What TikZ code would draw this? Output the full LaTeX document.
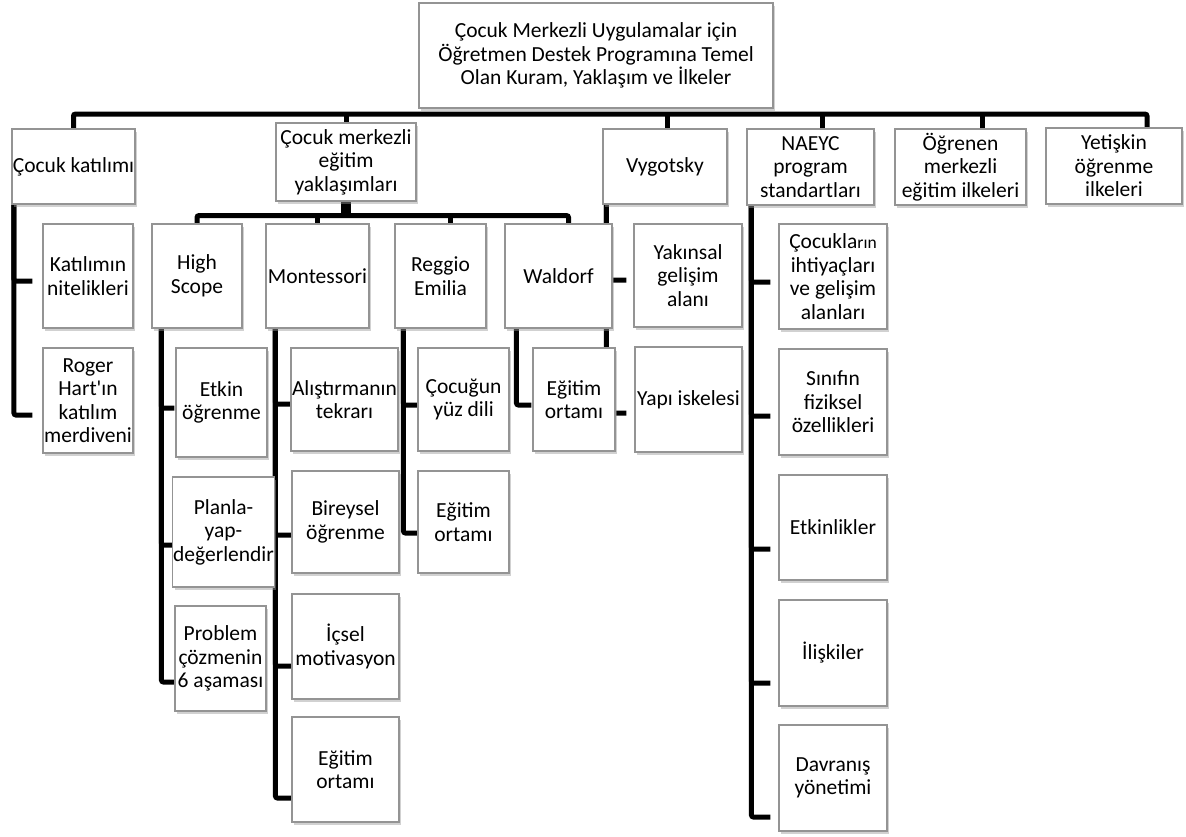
\documentclass[tikz,border=0pt]{standalone}
\usepackage{fontspec}
\setmainfont{Carlito}
\usetikzlibrary{calc,shadows}
\pgfdeclarelayer{back}
\pgfdeclarelayer{bg}
\pgfsetlayers{back,bg,main}
\tikzset{
  box/.style={draw=black!42, line width=1.1pt, fill=white, inner sep=0.5pt, align=center,
    font=\fontsize{21.5}{23.5}\selectfont,
    drop shadow={shadow xshift=2pt, shadow yshift=-2.5pt, fill=black!40, opacity=0.45}},
  conn/.style={line width=5pt, black, rounded corners=2pt},
  stemline/.style={line width=10pt, black}
}
\newcommand{\mybox}[6]{\node[box, minimum width={(#4)-(#2)}, minimum height={(#5)-(#3)}] (#1) at ({((#2)+(#4))/2},{((#3)+(#5))/2}) {#6};}
\begin{document}
\begin{tikzpicture}[x=1pt,y=-1pt]
\begin{pgfonlayer}{back}
\fill[white] (0,0) rectangle (1186,836);
\end{pgfonlayer}
\useasboundingbox (0,0) rectangle (1186,836);
% level 0 and 1
\mybox{root}{419}{3}{773}{108}{Çocuk Merkezli Uygulamalar için\\Öğretmen Destek Programına Temel\\Olan Kuram, Yaklaşım ve İlkeler}
\mybox{ck}{12}{129}{135}{204}{Çocuk katılımı}
\mybox{cm}{276}{123}{416}{201}{Çocuk merkezli\\eğitim\\yaklaşımları}
\mybox{vyg}{603}{129}{727}{204}{Vygotsky}
\mybox{nae}{747}{129}{874}{205}{NAEYC\\program\\standartları}
\mybox{ogr}{895}{129}{1026}{205}{Öğrenen\\merkezli\\eğitim ilkeleri}
\mybox{yet}{1046}{128}{1182}{204}{Yetişkin\\öğrenme\\ilkeleri}
% level 2
\mybox{kat}{43}{224}{133}{328}{Katılımın\\nitelikleri}
\mybox{rog}{43}{348}{133}{453}{Roger\\Hart\textquotesingle ın\\katılım\\merdiveni}
\mybox{hs}{152}{224}{242}{328}{High\\Scope}
\mybox{mon}{266}{224}{369}{328}{Montessori}
\mybox{reg}{395}{224}{486}{328}{Reggio\\Emilia}
\mybox{wal}{505}{224}{612}{328}{Waldorf}
\mybox{yak}{634}{224}{742}{327}{Yakınsal\\gelişim\\alanı}
\mybox{coc}{779}{224}{887}{329}{Çocukla{\fontsize{17.5}{23.5}\selectfont rın}\\ihtiyaçları\\ve gelişim\\alanları}
% level 3+
\mybox{etk}{176}{348}{267}{457}{Etkin\\öğrenme}
\mybox{pla}{175}{477}{272}{587}{Planla-\\yap-\\değerlendir}
\mybox{pro}{175}{606}{266}{711}{Problem\\çözmenin\\6 aşaması}
\mybox{ali}{291}{348}{398}{451}{Alıştırmanın\\tekrarı}
\mybox{bir}{292}{471}{399}{573}{Bireysel\\öğrenme}
\mybox{ics}{292}{594}{399}{699}{İçsel\\motivasyon}
\mybox{meg}{292}{717}{399}{822}{Eğitim\\ortamı}
\mybox{cyz}{418}{348}{509}{451}{Çocuğun\\yüz dili}
\mybox{reo}{418}{471}{509}{573}{Eğitim\\ortamı}
\mybox{weo}{533}{348}{615}{451}{Eğitim\\ortamı}
\mybox{yap}{635}{347}{742}{452}{Yapı iskelesi}
\mybox{sin}{779}{349}{887}{455}{Sınıfın\\fiziksel\\özellikleri}
\mybox{etl}{779}{475}{887}{580}{Etkinlikler}
\mybox{ili}{779}{600}{887}{706}{İlişkiler}
\mybox{dav}{779}{725}{887}{831}{Davranış\\yönetimi}

\begin{pgfonlayer}{bg}
% top bus
\coordinate (bus1) at ($(root.south)+(0,5.5)$);
\draw[conn] (ck.north) |- (bus1) -| ([xshift=33pt]yet.north);
\draw[conn] (cm.north) -- (cm.north |- bus1);
\draw[conn] ([xshift=2pt]vyg.north) -- ([xshift=2pt]vyg.north |- bus1);
\draw[conn] ([xshift=12pt]nae.north) -- ([xshift=12pt]nae.north |- bus1);
\draw[conn] ([xshift=22pt]ogr.north) -- ([xshift=22pt]ogr.north |- bus1);
% second bus
\coordinate (bus2) at ($(cm.south)+(0,14)$);
\draw[stemline] (cm.south) -- (bus2);
\draw[conn] (hs.north) |- (bus2) -| ([xshift=10pt]wal.north);
\draw[conn] (mon.north) -- (mon.north |- bus2);
\draw[conn] ([xshift=10pt]reg.north) -- ([xshift=10pt]reg.north |- bus2);
% Cocuk katilimi
\draw[conn] ($(kat.west)+(-10,5)$) -| ([xshift=2.5pt]ck.south west);
\draw[conn] ($(rog.west)+(-10,14.5)$) -| ([xshift=2.5pt]ck.south west);
% High Scope
\draw[conn] ($(etk.west)+(-1,5.5)$) -| ([xshift=10pt]hs.south west);
\draw[conn] ($(pla.west)+(0,13)$) -| ([xshift=10pt]hs.south west);
\draw[conn] ($(pro.west)+(0,23.5)$) -| ([xshift=10pt]hs.south west);
% Montessori
\draw[conn] ($(ali.west)+(0,4.5)$) -| ([xshift=10pt]mon.south west);
\draw[conn] ($(bir.west)+(0,13)$) -| ([xshift=10pt]mon.south west);
\draw[conn] ($(ics.west)+(0,19.5)$) -| ([xshift=10pt]mon.south west);
\draw[conn] ($(meg.west)+(0,28.5)$) -| ([xshift=10pt]mon.south west);
% Reggio
\draw[conn] ($(cyz.west)+(0,5.5)$) -| ([xshift=9pt]reg.south west);
\draw[conn] ($(reo.west)+(0,11)$) -| ([xshift=9pt]reg.south west);
% Waldorf
\draw[conn] ($(weo.west)+(-1,5.5)$) -| ([xshift=12pt]wal.south west);
% Vygotsky
\draw[conn] ($(yak.west)+(-7,4.5)$) -| ([xshift=4pt]vyg.south west);
\draw[conn] ($(yap.west)+(-8,13.5)$) -| ([xshift=4pt]vyg.south west);
% NAEYC
\draw[conn] ($(coc.west)+(-8,5.5)$) -| ([xshift=5pt]nae.south west);
\draw[conn] ($(sin.west)+(-8,14)$) -| ([xshift=5pt]nae.south west);
\draw[conn] ($(etl.west)+(-8,21.5)$) -| ([xshift=5pt]nae.south west);
\draw[conn] ($(ili.west)+(-8,30)$) -| ([xshift=5pt]nae.south west);
\draw[conn] ($(dav.west)+(-8,39)$) -| ([xshift=5pt]nae.south west);
\end{pgfonlayer}
\end{tikzpicture}
\end{document}
